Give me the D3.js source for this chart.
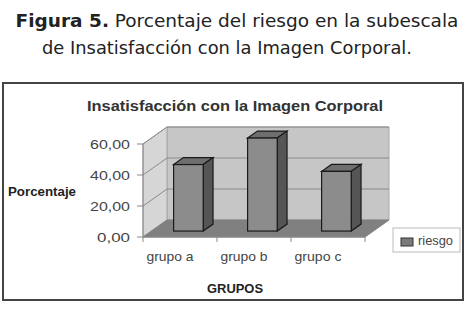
<!DOCTYPE html>
<html>
<head>
<meta charset="utf-8">
<script src="https://cdn.jsdelivr.net/npm/d3@7"></script>
<style>
  body { margin: 0; background: #fff; }
  text { font-family: "Liberation Sans", Arial, sans-serif; }
</style>
</head>
<body>
<script>
var w = 470;
var h = 311;

var categories = ["grupo a", "grupo b", "grupo c"];
var riesgo = [42.9, 60.0, 38.5];          // porcentaje de riesgo por grupo
var yTicks = [0, 20, 40, 60];
var seriesName = "riesgo";

// plot geometry (front face of the 3D box)
var x0 = 143, x1 = 365;
var yBase = 237, plotH = 93;
var dx = 24, dy = 17;                      // depth offset of the back wall
var barDepth0 = 0.35, barDepth1 = 0.76;    // bars sit in the middle of the depth

var x = d3.scaleBand().domain(categories).range([x0, x1]).paddingInner(0.6).paddingOuter(0.3);
var y = d3.scaleLinear().domain([0, 60]).range([0, plotH]);
var fmt = function(v){ return d3.format(".2f")(v).replace(".", ","); };

var svg = d3.select("body").append("svg")
    .attr("width", w)
    .attr("height", h);

// figure caption
var cap = svg.append("text")
    .attr("x", 237).attr("y", 27)
    .attr("text-anchor", "middle")
    .style("font-family", "'DejaVu Sans', Verdana, sans-serif")
    .style("font-size", "18.5px")
    .attr("fill", "#222");
cap.append("tspan").style("font-weight", "bold").text("Figura 5.");
cap.append("tspan").text(" Porcentaje del riesgo en la subescala");
svg.append("text")
    .attr("x", 227).attr("y", 54)
    .attr("text-anchor", "middle")
    .style("font-family", "'DejaVu Sans', Verdana, sans-serif")
    .style("font-size", "18.5px")
    .attr("fill", "#222")
    .attr("textLength", 370).attr("lengthAdjust", "spacingAndGlyphs")
    .text("de Insatisfacción con la Imagen Corporal.");

// chart frame
svg.append("rect")
    .attr("x", 3).attr("y", 83).attr("width", 460).attr("height", 217)
    .attr("fill", "#fff").attr("stroke", "#444").attr("stroke-width", 2);

svg.append("text")
    .attr("x", 235).attr("y", 111)
    .attr("text-anchor", "middle")
    .style("font-size", "15px").style("font-weight", "bold")
    .attr("fill", "#333")
    .attr("textLength", 296).attr("lengthAdjust", "spacingAndGlyphs")
    .text("Insatisfacción con la Imagen Corporal");

function pt(px, py){ return px + "," + py; }
var yTop = yBase - y(60);

// back wall
svg.append("polygon")
    .attr("points", [pt(x0+dx, yTop-dy), pt(x1+dx, yTop-dy), pt(x1+dx, yBase-dy), pt(x0+dx, yBase-dy)].join(" "))
    .attr("fill", "#c6c6c6").attr("stroke", "#a8a8a8");
// left wall
svg.append("polygon")
    .attr("points", [pt(x0, yTop), pt(x0+dx, yTop-dy), pt(x0+dx, yBase-dy), pt(x0, yBase)].join(" "))
    .attr("fill", "#d6d6d6").attr("stroke", "#a8a8a8");
// floor
svg.append("polygon")
    .attr("points", [pt(x0, yBase), pt(x0+dx, yBase-dy), pt(x1+dx, yBase-dy), pt(x1, yBase)].join(" "))
    .attr("fill", "#808080").attr("stroke", "#808080");

// gridlines on walls
var grid = yTicks.filter(function(d){ return d > 0; });
svg.selectAll("line.gridb").data(grid).enter().append("line")
    .attr("x1", x0+dx).attr("x2", x1+dx)
    .attr("y1", function(d){ return yBase - dy - y(d); })
    .attr("y2", function(d){ return yBase - dy - y(d); })
    .attr("stroke", "#8a8a8a");
svg.selectAll("line.gridl").data(grid).enter().append("line")
    .attr("x1", x0).attr("x2", x0+dx)
    .attr("y1", function(d){ return yBase - y(d); })
    .attr("y2", function(d){ return yBase - dy - y(d); })
    .attr("stroke", "#8a8a8a");

// axes lines
svg.append("line").attr("x1", x0).attr("x2", x0).attr("y1", yTop).attr("y2", yBase).attr("stroke", "#888");
svg.append("line").attr("x1", x0).attr("x2", x1).attr("y1", yBase).attr("y2", yBase).attr("stroke", "#888");

// y ticks + labels
svg.selectAll("line.ytick").data(yTicks).enter().append("line")
    .attr("x1", x0-6).attr("x2", x0)
    .attr("y1", function(d){ return yBase - y(d); })
    .attr("y2", function(d){ return yBase - y(d); })
    .attr("stroke", "#888");
svg.selectAll("text.ylab").data(yTicks).enter().append("text")
    .attr("x", 130)
    .attr("y", function(d){ return yBase - y(d) + 5; })
    .attr("text-anchor", "end")
    .style("font-size", "13px")
    .attr("fill", "#444")
    .attr("textLength", function(d){ return d >= 10 ? 40 : 33; })
    .attr("lengthAdjust", "spacingAndGlyphs")
    .text(fmt);

// x category ticks + labels
var bounds = [x0].concat(categories.map(function(c, i){ return x0 + (i+1) * (x1-x0) / categories.length; }));
svg.selectAll("line.xtick").data(bounds).enter().append("line")
    .attr("x1", function(d){ return d; }).attr("x2", function(d){ return d; })
    .attr("y1", yBase).attr("y2", yBase + 5)
    .attr("stroke", "#888");
svg.selectAll("text.xlab").data(categories).enter().append("text")
    .attr("x", function(d){ return x(d) + x.bandwidth()/2 - 10; })
    .attr("y", 261)
    .attr("text-anchor", "middle")
    .style("font-size", "13.5px")
    .attr("fill", "#444")
    .attr("textLength", 47).attr("lengthAdjust", "spacingAndGlyphs")
    .text(function(d){ return d; });

// bars (3D)
var bars = svg.selectAll("g.bar").data(riesgo).enter().append("g").attr("class", "bar");
bars.each(function(v, i){
    var g = d3.select(this);
    var bx = x(categories[i]) + dx * barDepth0;
    var by = yBase - dy * barDepth0;
    var bw = x.bandwidth();
    var bh = y(v);
    var ox = dx * (barDepth1 - barDepth0), oy = dy * (barDepth1 - barDepth0);
    g.append("polygon")   // top
        .attr("points", [pt(bx, by-bh), pt(bx+ox, by-bh-oy), pt(bx+bw+ox, by-bh-oy), pt(bx+bw, by-bh)].join(" "))
        .attr("fill", "#6e6e6e").attr("stroke", "#1a1a1a").attr("stroke-width", 1.2);
    g.append("polygon")   // side
        .attr("points", [pt(bx+bw, by-bh), pt(bx+bw+ox, by-bh-oy), pt(bx+bw+ox, by-oy), pt(bx+bw, by)].join(" "))
        .attr("fill", "#555").attr("stroke", "#1a1a1a").attr("stroke-width", 1.2);
    g.append("rect")      // front
        .attr("x", bx).attr("y", by-bh).attr("width", bw).attr("height", bh)
        .attr("fill", "#8c8c8c").attr("stroke", "#1a1a1a").attr("stroke-width", 1.2);
});

// axis titles
svg.append("text")
    .attr("x", 8).attr("y", 196)
    .style("font-size", "13px").style("font-weight", "bold")
    .attr("fill", "#222")
    .attr("textLength", 68).attr("lengthAdjust", "spacingAndGlyphs")
    .text("Porcentaje");
svg.append("text")
    .attr("x", 235).attr("y", 293)
    .attr("text-anchor", "middle")
    .style("font-size", "13px").style("font-weight", "bold")
    .attr("fill", "#222")
    .attr("textLength", 56).attr("lengthAdjust", "spacingAndGlyphs")
    .text("GRUPOS");

// legend
var leg = svg.append("g").attr("transform", "translate(393,228)");
leg.append("rect").attr("width", 67).attr("height", 24)
    .attr("fill", "#fff").attr("stroke", "#bbb");
leg.append("rect").attr("x", 8).attr("y", 10).attr("width", 12).attr("height", 8)
    .attr("fill", "#7a7a7a").attr("stroke", "#333");
leg.append("text").attr("x", 25).attr("y", 17)
    .style("font-size", "12.5px").attr("fill", "#444")
    .attr("textLength", 35).attr("lengthAdjust", "spacingAndGlyphs")
    .text(seriesName);
</script>
</body>
</html>
